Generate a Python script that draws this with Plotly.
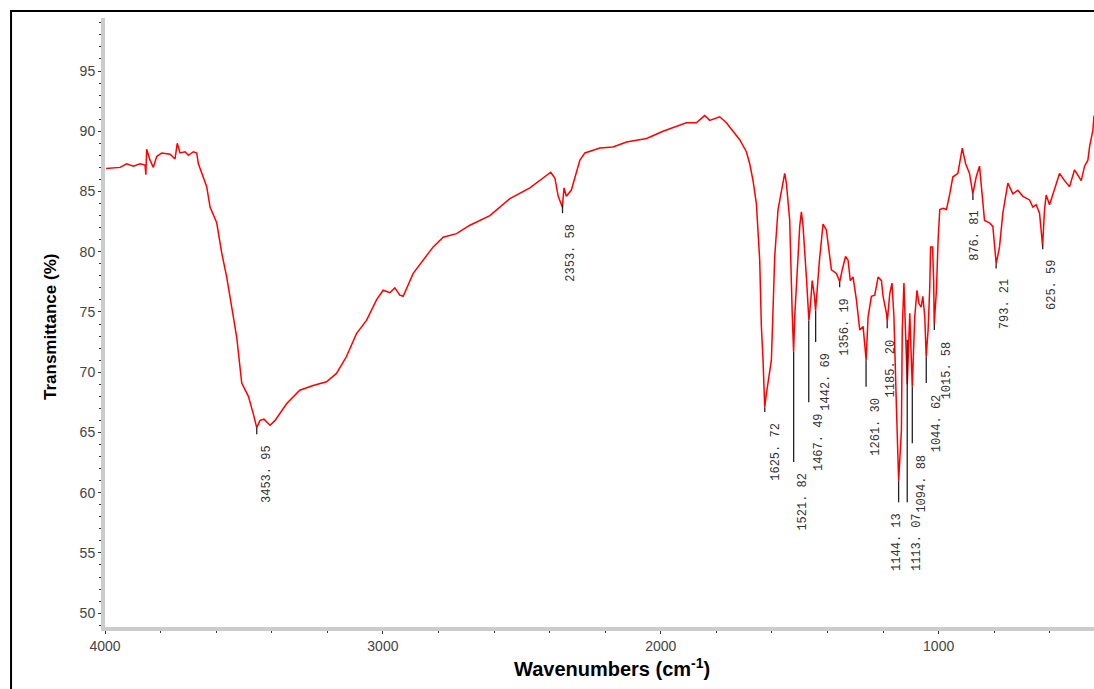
import plotly.graph_objects as go

# ---- spectrum data (wavenumber cm-1, transmittance %) ----
wavenumber = [3996, 3946, 3922, 3898, 3874, 3856, 3853, 3850, 3838, 3826, 3814, 3796, 3766, 3748,
              3740, 3730, 3712, 3700, 3682, 3670, 3664, 3646, 3634, 3622, 3598, 3580, 3562, 3544,
              3526, 3508, 3484, 3467, 3454, 3442, 3428, 3406, 3388, 3346, 3299, 3251, 3203, 3167,
              3131, 3095, 3059, 3023, 2999, 2975, 2957, 2939, 2927, 2891, 2855, 2819, 2783, 2735,
              2687, 2615, 2543, 2471, 2396, 2381, 2369, 2354, 2351, 2348, 2340, 2322, 2291, 2273,
              2219, 2172, 2123, 2051, 1992, 1908, 1872, 1842, 1824, 1788, 1764, 1740, 1716, 1692,
              1680, 1668, 1656, 1644, 1638, 1632, 1626, 1620, 1611, 1602, 1596, 1590, 1578, 1566,
              1554, 1548, 1536, 1527, 1522, 1518, 1506, 1500, 1494, 1488, 1476, 1467, 1461, 1455,
              1447, 1443, 1429, 1416, 1404, 1395, 1386, 1368, 1356, 1347, 1335, 1326, 1318, 1308,
              1296, 1284, 1272, 1261, 1254, 1242, 1230, 1218, 1206, 1200, 1188, 1185, 1176, 1168,
              1161, 1152, 1144, 1134, 1131, 1125, 1119, 1113, 1104, 1095, 1086, 1078, 1071, 1063,
              1057, 1050, 1045, 1038, 1032, 1029, 1022, 1018, 1016, 1008, 1002, 996, 984, 972,
              960, 949, 931, 915, 903, 889, 877, 865, 853, 847, 835, 817, 805, 793, 781, 769, 751,
              733, 715, 697, 673, 661, 649, 637, 626, 619, 613, 601, 589, 565, 547, 529, 511, 487,
              475, 463, 457, 445, 441]
transmittance = [86.9, 87.0, 87.3, 87.1, 87.3, 87.2, 86.4, 88.5, 87.6, 87.0, 87.9, 88.2, 88.1, 87.7,
                 89.0, 88.2, 88.3, 88.0, 88.3, 88.2, 87.3, 86.2, 85.4, 83.7, 82.4, 79.9, 77.9, 75.4,
                 72.9, 69.1, 68.0, 66.6, 65.4, 66.0, 66.1, 65.6, 66.0, 67.4, 68.5, 68.9, 69.2, 69.9,
                 71.3, 73.2, 74.3, 76.0, 76.8, 76.6, 77.0, 76.4, 76.3, 78.2, 79.3, 80.4, 81.2, 81.5,
                 82.2, 83.0, 84.4, 85.3, 86.6, 86.1, 84.6, 83.7, 84.6, 85.3, 84.6, 85.1, 87.6, 88.2,
                 88.6, 88.7, 89.1, 89.4, 90.0, 90.7, 90.7, 91.3, 90.9, 91.2, 90.7, 90.0, 89.3, 88.3,
                 87.3, 85.9, 84.0, 79.3, 73.8, 71.0, 67.1, 68.2, 69.6, 71.0, 75.2, 79.6, 83.5, 85.1,
                 86.5, 85.7, 82.6, 74.9, 71.7, 74.6, 80.1, 82.1, 83.3, 82.1, 77.9, 74.3, 75.7, 77.6,
                 76.3, 75.1, 79.3, 82.3, 81.8, 79.9, 78.5, 78.2, 77.5, 78.5, 79.6, 79.3, 77.6, 77.9,
                 76.0, 73.5, 73.8, 71.0, 74.6, 76.3, 76.4, 77.9, 77.6, 76.3, 74.9, 74.2, 76.5, 77.4,
                 74.6, 67.1, 61.0, 65.2, 73.5, 77.4, 72.9, 69.0, 74.9, 68.8, 74.6, 76.8, 75.7, 75.4,
                 76.3, 74.6, 71.3, 73.5, 77.1, 80.4, 80.4, 77.6, 74.0, 76.8, 81.0, 83.5, 83.6, 83.5,
                 84.8, 86.2, 86.5, 88.6, 87.3, 86.5, 84.8, 86.2, 87.1, 85.7, 82.6, 82.4, 82.1, 79.0,
                 80.4, 83.2, 85.7, 84.8, 85.1, 84.6, 84.3, 83.7, 83.9, 83.2, 80.5, 83.5, 84.7, 83.9,
                 84.8, 86.5, 85.9, 85.4, 86.8, 85.9, 87.1, 87.6, 88.7, 90.1, 91.3]

# ---- peak labels ----
peak_wn = [3453.95, 2353.58, 1625.72, 1521.82, 1467.49, 1442.69, 1356.19, 1261.30, 1185.20,
           1144.13, 1113.07, 1094.88, 1044.62, 1015.58, 876.81, 793.21, 625.59]
peak_text = ["3453. 95", "2353. 58", "1625. 72", "1521. 82", "1467. 49", "1442. 69", "1356. 19",
             "1261. 30", "1185. 20", "1144. 13", "1113. 07", "1094. 88", "1044. 62", "1015. 58",
             "876. 81", "793. 21", "625. 59"]
peak_top = [65.4, 83.9, 67.1, 71.7, 74.3, 75.1, 77.5, 71.0, 74.2, 61.0, 72.7, 68.8, 71.3, 74.0,
            84.8, 79.0, 80.6]
peak_bottom = [64.85, 83.2, 66.7, 62.55, 67.5, 72.5, 77.06, 68.8, 73.65, 59.2, 59.2, 64.1, 69.1,
               73.5, 84.3, 78.6, 80.2]
label_dx = [10, 9, 11, 9, 11, 10, 5, 10, 4, -1, 10.5, 10, 11, 13, 2, 8.5, 10]

fig = go.Figure()
fig.add_trace(go.Scatter(x=wavenumber, y=transmittance, mode="lines",
                         line=dict(color="#ff0000", width=1.5), hoverinfo="skip",
                         showlegend=False))

lx, ly = [], []
for w, t, b in zip(peak_wn, peak_top, peak_bottom):
    lx += [w, w, None]
    ly += [t, b, None]
fig.add_trace(go.Scatter(x=lx, y=ly, mode="lines", line=dict(color="#222222", width=1.3),
                         hoverinfo="skip", showlegend=False))

for w, b, txt, dx in zip(peak_wn, peak_bottom, peak_text, label_dx):
    fig.add_annotation(x=w, y=b, text=txt, showarrow=False, textangle=-90,
                       xanchor="center", yanchor="top", xshift=dx, yshift=-9,
                       font=dict(family="Liberation Mono, DejaVu Sans Mono", size=12,
                                 color="#333333"))

# axis titles as annotations for precise placement
fig.add_annotation(xref="paper", yref="paper", x=-0.0556, y=0.4926,
                   text="<b>Transmittance (%)</b>", showarrow=False, textangle=-90,
                   xanchor="center", yanchor="middle",
                   font=dict(family="Arial, Liberation Sans", size=17, color="#000000"))
fig.add_annotation(xref="paper", yref="paper", x=0.5126, y=-0.0657,
                   text="<b>Wavenumbers (cm<sup>-1</sup>)</b>", showarrow=False,
                   xanchor="center", yanchor="middle",
                   font=dict(family="Arial, Liberation Sans", size=20, color="#000000"))

axis_font = dict(family="Arial, Liberation Sans", size=14, color="#444444")
fig.update_xaxes(range=[4000, 441], showgrid=False, zeroline=False, showline=True,
                 linecolor="#cccccc", linewidth=4, ticks="outside", ticklen=3,
                 tickcolor="#333333", tickvals=[4000, 3000, 2000, 1000], tickfont=axis_font,
                 minor=dict(dtick=200, ticks="outside", ticklen=2, tickcolor="#333333"))
fig.update_yaxes(range=[48.85, 99.4], showgrid=False, zeroline=False, showline=True,
                 linecolor="#cccccc", linewidth=4, ticks="outside", ticklen=3,
                 tickcolor="#333333", tickvals=[50, 55, 60, 65, 70, 75, 80, 85, 90, 95],
                 tickfont=axis_font,
                 minor=dict(dtick=1, ticks="outside", ticklen=2, tickcolor="#333333"))

fig.add_shape(type="rect", xref="paper", yref="paper", x0=-0.095, y0=-0.2, x1=1.05, y1=1.0115,
              line=dict(color="#000000", width=2), fillcolor="rgba(0,0,0,0)", layer="above")

fig.update_layout(width=1094, height=689, margin=dict(l=105, r=0, t=18, b=62),
                  plot_bgcolor="white", paper_bgcolor="white")
fig.write_html("out.html")
